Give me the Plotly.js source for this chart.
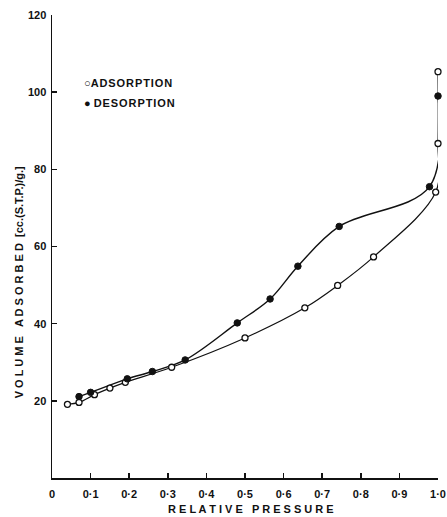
<!DOCTYPE html>
<html>
<head>
<meta charset="utf-8">
<script src="https://cdn.plot.ly/plotly-3.0.1.min.js"></script>
<style>
html,body{margin:0;padding:0;background:#fff;}
#chart{width:447px;height:517px;}
</style>
</head>
<body>
<div id="chart"></div>
<script>
// Adsorption branch (open circles)
var adsP = [0.04, 0.07, 0.11, 0.15, 0.19, 0.31, 0.50, 0.655, 0.74, 0.833, 0.994, 1.0, 1.0];
var adsV = [19.1, 19.6, 21.6, 23.3, 24.8, 28.7, 36.3, 44.1, 49.9, 57.3, 74.1, 86.7, 105.3];
// Desorption branch (filled circles)
var desP = [0.07, 0.10, 0.195, 0.26, 0.345, 0.48, 0.565, 0.637, 0.744, 0.978, 1.0];
var desV = [21.1, 22.2, 25.7, 27.6, 30.6, 40.2, 46.4, 54.9, 65.2, 75.5, 99.0];
// Tick labels
var xTickVals = [0, 0.1, 0.2, 0.3, 0.4, 0.5, 0.6, 0.7, 0.8, 0.9, 1.0];
var xTickText = ["0", "0·1", "0·2", "0·3", "0·4", "0·5", "0·6", "0·7", "0·8", "0·9", "1·0"];
var yTickVals = [20, 40, 60, 80, 100, 120];
var yTickText = ["20", "40", "60", "80", "100", "120"];
var seriesNames = ["ADSORPTION", "DESORPTION"];

var FAM = "Liberation Sans, Arial, sans-serif";
var ink = "#111";

var traces = [
  {x: desP, y: desV, mode: "lines", line: {shape: "spline", smoothing: 1, color: ink, width: 1.4}, showlegend: false, hoverinfo: "skip", cliponaxis: false},
  {x: adsP, y: adsV, mode: "lines", line: {shape: "spline", smoothing: 1, color: ink, width: 1.2}, showlegend: false, hoverinfo: "skip", cliponaxis: false},
  {x: adsP, y: adsV, mode: "markers", name: seriesNames[0], showlegend: false, cliponaxis: false,
   marker: {symbol: "circle", size: 6, color: "#fff", line: {color: ink, width: 1.3}}},
  {x: desP, y: desV, mode: "markers", name: seriesNames[1], showlegend: false, cliponaxis: false,
   marker: {symbol: "circle", size: 6.5, color: ink, line: {color: ink, width: 1}}}
];

var sp = function (s) { return s.split("").join(" "); };
var hs = function (s) { return s.split("").join("\u200A"); };

var layout = {
  width: 447, height: 517,
  margin: {l: 52, r: 9, t: 15, b: 39},
  paper_bgcolor: "#fff", plot_bgcolor: "#fff",
  font: {family: FAM, size: 10, color: ink},
  showlegend: false,
  xaxis: {
    range: [0, 1.0], showgrid: false, zeroline: false,
    showline: true, linecolor: ink, linewidth: 1.5,
    ticks: "inside", ticklen: 5, tickwidth: 1.5, tickcolor: ink,
    tickvals: xTickVals, ticktext: xTickText, ticklabelstandoff: 5,
    tickfont: {family: FAM, size: 11, color: ink, weight: "bold"}
  },
  yaxis: {
    range: [0, 120], showgrid: false, zeroline: false,
    showline: true, linecolor: ink, linewidth: 1.5,
    ticks: "inside", ticklen: 5, tickwidth: 1.5, tickcolor: ink,
    tickvals: yTickVals, ticktext: yTickText, ticklabelstandoff: 2,
    tickfont: {family: FAM, size: 11, color: ink, weight: "bold"}
  },
  annotations: [
    {xref: "paper", yref: "paper", x: 0.515, y: -0.068, xanchor: "center", yanchor: "middle", showarrow: false,
     text: sp("RELATIVE") + "&nbsp;&nbsp;&nbsp;" + sp("PRESSURE"),
     font: {family: FAM, size: 11, color: ink, weight: "bold"}},
    {xref: "paper", yref: "paper", x: -0.085, y: 0.423, xanchor: "center", yanchor: "middle", showarrow: false, textangle: -90,
     text: sp("VOLUME") + "&nbsp;&nbsp;&nbsp;" + sp("ADSORBED") + "&nbsp;&nbsp;[cc.(S.T.P.)/g.]",
     font: {family: FAM, size: 11, color: ink, weight: "bold"}},
    {xref: "paper", yref: "paper", x: 0.078, y: (478 - 83) / 463, xanchor: "left", yanchor: "middle", showarrow: false,
     text: "○" + hs(seriesNames[0]),
     font: {family: FAM, size: 11, color: ink, weight: "bold"}},
    {xref: "paper", yref: "paper", x: 0.078, y: (478 - 103) / 463, xanchor: "left", yanchor: "middle", showarrow: false,
     text: "● " + hs(seriesNames[1]),
     font: {family: FAM, size: 11, color: ink, weight: "bold"}}
  ]
};

Plotly.newPlot("chart", traces, layout, {displayModeBar: false, staticPlot: true});
</script>
</body>
</html>
